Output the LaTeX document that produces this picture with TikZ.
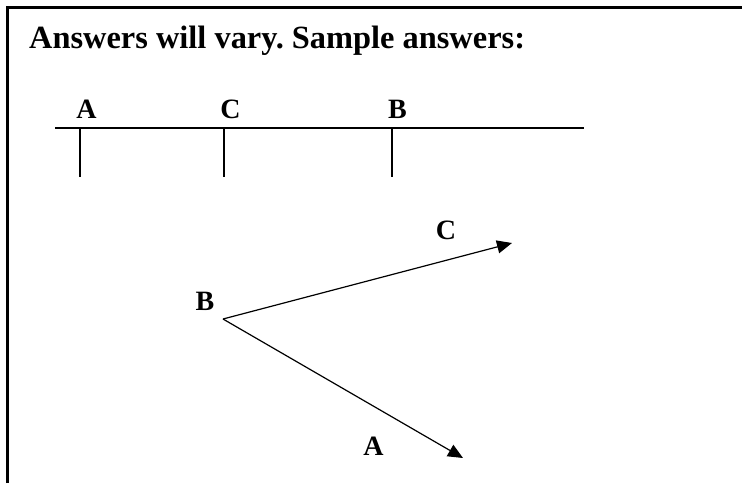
\documentclass[tikz,border=0pt]{standalone}
\usepackage{fontspec}
\setmainfont{Liberation Serif}
\usetikzlibrary{arrows.meta}
\frenchspacing
\begin{document}
\begin{tikzpicture}[x=1pt,y=-1pt,
  frameline/.style={line width=2.2pt},
  axisline/.style={line width=1.8pt},
  vec/.style={line width=1.2pt,-{Triangle[length=15pt,width=13pt]}},
  lbl/.style={font=\fontsize{28}{32}\selectfont\bfseries,anchor=base,inner sep=0pt},
  title/.style={font=\fontsize{32.4}{36}\selectfont\bfseries,anchor=base west,inner sep=0pt}]
\useasboundingbox (0,0) rectangle (742,483);
% frame
\coordinate (fbl) at (7.5,483);
\coordinate (ftl) at (7.5,7.5);
\coordinate (ftr) at (742,7.5);
\draw[frameline] (fbl) -- (ftl) -- (ftr);
% title
\node[title] (ttl) at (29,48) {Answers will vary. Sample answers:};
% line with ticks
\coordinate (L0) at (55,128);
\coordinate (L1) at (584,128);
\draw[axisline] (L0) -- (L1);
\coordinate (tA0) at (80,128);  \coordinate (tA1) at (80,177);
\coordinate (tC0) at (224,128); \coordinate (tC1) at (224,177);
\coordinate (tB0) at (392,128); \coordinate (tB1) at (392,177);
\draw[axisline] (tA0) -- (tA1);
\draw[axisline] (tC0) -- (tC1);
\draw[axisline] (tB0) -- (tB1);
\node[lbl] (la) at (86.5,118) {A};
\node[lbl] (lc) at (230.5,118) {C};
\node[lbl] (lb) at (397.5,118) {B};
% angle
\coordinate (V) at (223,319);
\coordinate (PC) at (512,243);
\coordinate (PA) at (463,458);
\draw[vec] (V) -- (PC);
\draw[vec] (V) -- (PA);
\node[lbl] (vb) at (205,310) {B};
\node[lbl] (vc) at (446,239) {C};
\node[lbl] (va) at (373.5,455) {A};
\end{tikzpicture}
\end{document}
